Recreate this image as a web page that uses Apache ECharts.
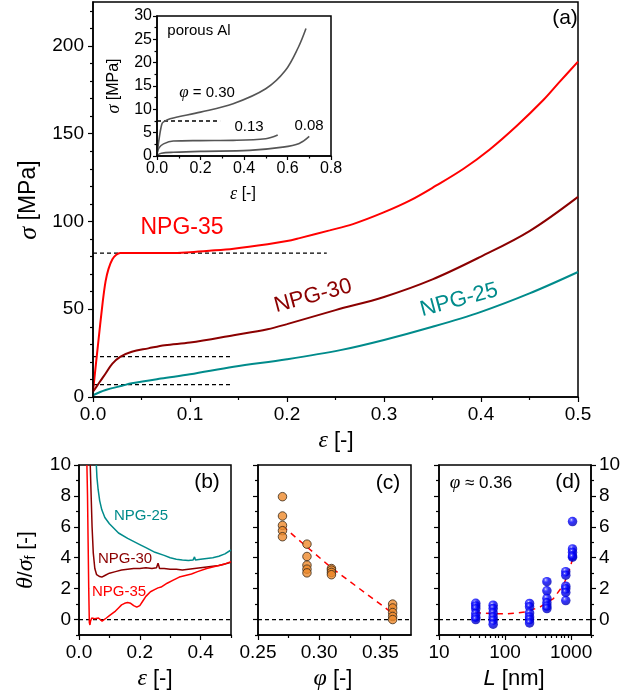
<!DOCTYPE html>
<html>
<head>
<meta charset="utf-8">
<script src="https://cdn.jsdelivr.net/npm/echarts@6/dist/echarts.min.js"></script>
<style>
html,body{margin:0;padding:0;background:#fff;}
#chart{width:639px;height:698px;}
</style>
</head>
<body>
<div id="chart"></div>
<script>
// ---------- (a) stress-strain curves of NPG samples ----------
const strainA35 = [0,0.005,0.01,0.013,0.016,0.02,0.024,0.028,0.04,0.06,0.08,0.1,0.12,0.145,0.18,0.2,0.213,0.244,0.268,0.299,0.327,0.354,0.382,0.409,0.437,0.464,0.481,0.5];
const stressA35 = [3,29,54,66,73,78.5,81,82,82,82,82,82.5,83.3,84.5,87,88.8,90.5,94.9,98.5,105,112,120.5,130,141,154.5,169,179.5,191];
const strainA30 = [0,0.006,0.013,0.02,0.028,0.04,0.057,0.074,0.1,0.145,0.18,0.2,0.25,0.3,0.35,0.4,0.45,0.5];
const stressA30 = [3,7.8,13.4,19,22.9,25.8,27.7,29.5,31,35.2,38.6,41.5,49.5,57,67,80,94.5,114];
const strainA25 = [0,0.013,0.03,0.04,0.07,0.1,0.145,0.2,0.255,0.3,0.35,0.4,0.45,0.5];
const stressA25 = [1,4,6.4,7.8,10.5,12.9,17.2,21.5,26.7,32.5,40,48.5,59,71.2];
// yield-stress guide lines: level and end strain
const yieldLevels = [82, 23, 7];
const yieldEnds = [0.241, 0.143, 0.143];

// ---------- inset: porous Al ----------
const insetStrain30 = [0,0.01,0.022,0.03,0.06,0.2,0.35,0.5,0.59,0.65,0.685];
const insetStress30 = [0.3,3.8,6.8,7.3,8,9.4,11.2,14.4,18.3,23.3,27.3];
const insetStrain13 = [0,0.01,0.03,0.075,0.2,0.35,0.5,0.555];
const insetStress13 = [0.5,1.8,2.6,3.2,3.3,3.35,3.7,4.5];
const insetStrain08 = [0,0.02,0.075,0.2,0.425,0.578,0.654,0.7];
const insetStress08 = [0.2,0.6,0.8,1.0,1.2,1.9,2.7,4.2];
const insetYield = 7.5, insetYieldEnd = 0.29;

// ---------- (b) normalised hardening rate ----------
const epsB25 = [0.057,0.059,0.063,0.068,0.075,0.085,0.1,0.13,0.16,0.2,0.22,0.25,0.28,0.3,0.32,0.34,0.36,0.375,0.38,0.383,0.4,0.42,0.44,0.46,0.48,0.5];
const thB25 = [10,9.2,8.4,7.7,7.1,6.6,6.2,5.6,5.25,4.85,4.65,4.35,4.15,4.0,3.9,3.85,3.82,3.85,4.05,3.85,3.9,3.95,4.0,4.1,4.25,4.5];
const epsB30 = [0.037,0.04,0.043,0.047,0.052,0.058,0.068,0.075,0.085,0.1,0.12,0.14,0.16,0.18,0.2,0.22,0.24,0.255,0.26,0.265,0.28,0.3,0.32,0.34,0.36,0.38,0.4,0.42,0.44,0.46,0.48,0.5];
const thB30 = [10,8,6,4.3,3.3,2.9,2.78,2.75,2.85,3.0,3.1,3.2,3.25,3.3,3.3,3.35,3.3,3.35,3.65,3.3,3.3,3.25,3.25,3.2,3.25,3.3,3.35,3.4,3.45,3.5,3.6,3.7];
const epsB35 = [0.026,0.028,0.03,0.032,0.034,0.036,0.038,0.042,0.047,0.052,0.058,0.064,0.07,0.076,0.082,0.09,0.1,0.11,0.12,0.13,0.14,0.15,0.16,0.17,0.18,0.19,0.2,0.21,0.22,0.235,0.25,0.26,0.27,0.29,0.31,0.33,0.35,0.37,0.39,0.42,0.44,0.46,0.48,0.5];
const thB35 = [10,8,5,2,-0.2,-0.35,-0.1,0.1,0.18,0.05,0.0,0.1,0.05,-0.1,0.0,0.1,0.25,0.4,0.55,0.75,0.95,1.05,1.1,1.05,0.9,0.8,0.9,1.2,1.5,1.8,1.95,2.05,2.1,2.35,2.55,2.75,2.85,2.95,3.1,3.3,3.4,3.5,3.6,3.75];

// ---------- (c) hardening vs. solid fraction ----------
const phiC = [0.27, 0.29, 0.31, 0.36];
const thetaC = [
  [7.95, 6.7, 6.09, 5.75, 5.36],
  [4.88, 4.08, 3.52, 3.26, 3.02],
  [3.3, 3.2, 3.05, 2.9],
  [1.0, 0.75, 0.45, 0.2, 0.0]
];
const fitPhiC = [0.27, 0.29, 0.31, 0.36];
const fitThetaC = [6.05, 4.7, 3.35, 0.4];

// ---------- (d) hardening vs. ligament size ----------
const sizeD = [36, 66, 235, 430, 830, 1050];
const thetaD = [
  [1.05, 0.88, 0.7, 0.38, 0.15, 0.0],
  [0.93, 0.71, 0.43, 0.17, -0.04, -0.3],
  [1.04, 0.82, 0.43, 0.17, 0.0, -0.22],
  [2.45, 1.86, 1.36, 1.08, 0.87, 0.71],
  [3.1, 2.87, 2.16, 1.99, 1.75, 1.23],
  [6.34, 4.57, 4.35, 4.11, 4.03]
];
const fitSizeD = [35, 62, 105, 210, 340, 540, 764, 910, 1060];
const fitThetaD = [0.45, 0.39, 0.36, 0.5, 0.82, 1.36, 2.23, 3.0, 3.96];

// ---------- tick positions ----------
const aXTicks = [0, 0.1, 0.2, 0.3, 0.4, 0.5];
const aXMinor = [0.05, 0.15, 0.25, 0.35, 0.45];
const aYTicks = [0, 50, 100, 150, 200];
const aYMinor = [10,20,30,40,60,70,80,90,110,120,130,140,160,170,180,190,210,220];
const inXTicks = [0, 0.2, 0.4, 0.6, 0.8];
const inXMinor = [0.1, 0.3, 0.5, 0.7];
const inYTicks = [0, 5, 10, 15, 20, 25, 30];
const inYMinor = [2.5, 7.5, 12.5, 17.5, 22.5, 27.5];
const bXTicks = [0, 0.2, 0.4];
const bXMinor = [0.1, 0.3, 0.5];
const thetaTicks = [0, 2, 4, 6, 8, 10];
const thetaMinor = [-1, 1, 3, 5, 7, 9];
const cXTicks = [0.25, 0.30, 0.35];
const cXMinor = [0.275, 0.325];
const dXTicks = [10, 100, 1000];
const dXMinor = [20,30,40,50,60,70,80,90,200,300,400,500,600,700,800,900,2000];

const RED = '#ff0000', DARKRED = '#8b0000', TEAL = '#008b8b', GREY = '#555555';
const SANS = '"Liberation Sans", Arial, sans-serif';
const SERIF = '"Liberation Serif", "Times New Roman", serif';

const pairs = (xs, ys) => xs.map((x, i) => [x, ys[i]]);

const grid = [
  {left: 93, top: 2, width: 485, height: 395},   // (a)
  {left: 157, top: 16, width: 174, height: 140}, // inset
  {left: 79, top: 465, width: 152, height: 170}, // (b)
  {left: 258, top: 465, width: 153, height: 170},// (c)
  {left: 439, top: 465, width: 152, height: 170} // (d)
].map(g => Object.assign({show: true, borderColor: '#000', borderWidth: 1.5, backgroundColor: 'transparent', containLabel: false}, g));

const xAxis = [], yAxis = [];
function addAxis(list, o) {
  const ax = {
    gridIndex: o.grid,
    type: o.type || 'value',
    min: o.min, max: o.max,
    position: o.pos,
    axisLine: {show: o.line !== false, onZero: false, lineStyle: {color: '#000', width: 1.5}},
    axisTick: {show: true, inside: false, length: o.len || 5, customValues: o.ticks, lineStyle: {color: '#000', width: 1.2}},
    axisLabel: {show: !!o.labels, color: '#000', fontFamily: SANS, fontSize: o.fs || 19, margin: o.margin || 8},
    splitLine: {show: false},
    minorTick: {show: false},
    minorSplitLine: {show: false},
    z: 5
  };
  if (o.labels) { ax.axisLabel.customValues = o.labels; ax.axisLabel.formatter = o.fmt; }
  if (o.type === 'log') ax.logBase = 10;
  list.push(ax);
  return list.length - 1;
}
const f1 = v => Number(v).toFixed(1);
const f2 = v => Number(v).toFixed(2);
const f0 = v => String(Math.round(v));

// (a)
const xa = addAxis(xAxis, {grid: 0, min: 0, max: 0.5, pos: 'bottom', ticks: aXTicks, labels: aXTicks, fmt: f1});
addAxis(xAxis, {grid: 0, min: 0, max: 0.5, pos: 'bottom', ticks: aXMinor, len: 3, line: false});
const ya = addAxis(yAxis, {grid: 0, min: 0, max: 225, pos: 'left', ticks: aYTicks, labels: aYTicks, fmt: f0, margin: 9});
addAxis(yAxis, {grid: 0, min: 0, max: 225, pos: 'left', ticks: aYMinor, len: 3, line: false});
// inset
const xi = addAxis(xAxis, {grid: 1, min: 0, max: 0.8, pos: 'bottom', ticks: inXTicks, labels: inXTicks, fmt: f1, fs: 16, margin: 5, len: 4});
addAxis(xAxis, {grid: 1, min: 0, max: 0.8, pos: 'bottom', ticks: inXMinor, len: 2.5, line: false});
const yi = addAxis(yAxis, {grid: 1, min: 0, max: 30, pos: 'left', ticks: inYTicks, labels: inYTicks, fmt: f0, fs: 16, margin: 5, len: 4});
addAxis(yAxis, {grid: 1, min: 0, max: 30, pos: 'left', ticks: inYMinor, len: 2.5, line: false});
// (b)
const xb = addAxis(xAxis, {grid: 2, min: 0, max: 0.5, pos: 'bottom', ticks: bXTicks, labels: bXTicks, fmt: f1});
addAxis(xAxis, {grid: 2, min: 0, max: 0.5, pos: 'bottom', ticks: bXMinor, len: 3, line: false});
const yb = addAxis(yAxis, {grid: 2, min: -1, max: 10, pos: 'left', ticks: thetaTicks, labels: thetaTicks, fmt: f0});
addAxis(yAxis, {grid: 2, min: -1, max: 10, pos: 'left', ticks: thetaMinor, len: 3, line: false});
// (c)
const xc = addAxis(xAxis, {grid: 3, min: 0.25, max: 0.375, pos: 'bottom', ticks: cXTicks, labels: cXTicks, fmt: f2});
addAxis(xAxis, {grid: 3, min: 0.25, max: 0.375, pos: 'bottom', ticks: cXMinor, len: 3, line: false});
const yc = addAxis(yAxis, {grid: 3, min: -1, max: 10, pos: 'left', ticks: thetaTicks});
addAxis(yAxis, {grid: 3, min: -1, max: 10, pos: 'left', ticks: thetaMinor, len: 3, line: false});
// (d)
const xd = addAxis(xAxis, {grid: 4, type: 'log', min: 10, max: 2000, pos: 'bottom', ticks: dXTicks, labels: dXTicks, fmt: f0});
addAxis(xAxis, {grid: 4, type: 'log', min: 10, max: 2000, pos: 'bottom', ticks: dXMinor, len: 3, line: false});
const yd = addAxis(yAxis, {grid: 4, min: -1, max: 10, pos: 'right', ticks: thetaTicks, labels: thetaTicks, fmt: f0});
addAxis(yAxis, {grid: 4, min: -1, max: 10, pos: 'right', ticks: thetaMinor, len: 3, line: false});
addAxis(yAxis, {grid: 4, min: -1, max: 10, pos: 'left', ticks: thetaTicks});
addAxis(yAxis, {grid: 4, min: -1, max: 10, pos: 'left', ticks: thetaMinor, len: 3, line: false});

const series = [];
function line(xi_, yi_, data, color, width, extra) {
  series.push(Object.assign({
    type: 'line', xAxisIndex: xi_, yAxisIndex: yi_, data: data,
    symbol: 'none', showSymbol: false, animation: false, silent: true,
    lineStyle: {color: color, width: width}
  }, extra || {}));
}
function dashed(xi_, yi_, data, color, width, dash) {
  line(xi_, yi_, data, color, width, {lineStyle: {color: color, width: width, type: dash || [4, 3]}, z: 1});
}

// (a) curves and yield guides
yieldLevels.forEach((lv, i) => dashed(xa, ya, [[0, lv], [yieldEnds[i], lv]], '#000', 1.3));
line(xa, ya, pairs(strainA25, stressA25), TEAL, 2, {smooth: 0.35});
line(xa, ya, pairs(strainA30, stressA30), DARKRED, 2, {smooth: 0.35});
line(xa, ya, pairs(strainA35, stressA35), RED, 2, {smooth: 0.35});
// inset curves
dashed(xi, yi, [[0, insetYield], [insetYieldEnd, insetYield]], '#000', 1.3);
line(xi, yi, pairs(insetStrain30, insetStress30), GREY, 1.6, {smooth: 0.35});
line(xi, yi, pairs(insetStrain13, insetStress13), GREY, 1.6, {smooth: 0.35});
line(xi, yi, pairs(insetStrain08, insetStress08), GREY, 1.6, {smooth: 0.35});
// (b)
dashed(xb, yb, [[0, 0], [0.5, 0]], '#000', 1.3);
line(xb, yb, pairs(epsB25, thB25), TEAL, 1.5);
line(xb, yb, pairs(epsB30, thB30), DARKRED, 1.5);
line(xb, yb, pairs(epsB35, thB35), RED, 1.5);
// (c)
dashed(xc, yc, [[0.25, 0], [0.375, 0]], '#000', 1.3);
dashed(xc, yc, pairs(fitPhiC, fitThetaC), RED, 1.5, [6, 5]);
series.push({
  type: 'scatter', xAxisIndex: xc, yAxisIndex: yc, animation: false, silent: true,
  symbol: 'circle', symbolSize: 8.5,
  itemStyle: {color: '#ee8a2c', borderColor: '#3a2a1a', borderWidth: 1},
  data: phiC.flatMap((p, i) => thetaC[i].map(t => [p, t])), z: 3
});
// (d)
dashed(xd, yd, [[10, 0], [2000, 0]], '#000', 1.3);
dashed(xd, yd, pairs(fitSizeD, fitThetaD), RED, 1.5, [6, 5]);
series.push({
  type: 'scatter', xAxisIndex: xd, yAxisIndex: yd, animation: false, silent: true,
  symbol: 'circle', symbolSize: 9.5,
  itemStyle: {
    color: {type: 'radial', x: 0.38, y: 0.32, r: 0.7, colorStops: [
      {offset: 0, color: '#ffffff'}, {offset: 0.14, color: '#5a5aff'}, {offset: 0.4, color: '#0000ff'}, {offset: 1, color: '#0000b0'}
    ]}
  },
  data: sizeD.flatMap((L, i) => thetaD[i].map(t => [L, t])), z: 3
});

// text annotations
function txt(x, y, text, size, color, opts) {
  opts = opts || {};
  return {
    type: 'text', x: x, y: y, rotation: opts.rot || 0, z: 10, silent: true,
    style: {
      text: text, fill: color || '#000',
      font: (opts.italic ? 'italic ' : '') + size + 'px ' + (opts.family || SANS),
      align: opts.align || 'center', verticalAlign: 'middle',
      textAlign: opts.align || 'center', textVerticalAlign: 'middle',
      rich: opts.rich
    }
  };
}
const greek = size => ({fontFamily: SERIF, fontStyle: 'italic', fontSize: size, fill: '#000', color: '#000'});
const plain = size => ({fontFamily: SANS, fontSize: size, fill: '#000', color: '#000'});
const deg = Math.PI / 180;

const graphic = [
  // (a)
  txt(29, 200, '{g|σ}{p| [MPa]}', 23, '#000', {rot: 90 * deg, rich: {g: greek(26), p: plain(23)}}),
  txt(336, 441, '{g|ε}{p| [-]}', 22, '#000', {rich: {g: greek(24), p: plain(22)}}),
  txt(565, 18, '(a)', 21),
  txt(182, 228, 'NPG-35', 23, RED),
  txt(313, 296, 'NPG-30', 22, DARKRED, {rot: 15 * deg}),
  txt(459, 300, 'NPG-25', 22, TEAL, {rot: 15 * deg}),
  // inset
  txt(199, 31, 'porous Al', 15),
  txt(207, 93, '{g|φ}{p| = 0.30}', 15, '#000', {rich: {g: greek(17), p: plain(15)}}),
  txt(249, 127, '0.13', 15),
  txt(309, 126, '0.08', 15),
  txt(114, 86, '{g|σ}{p| [MPa]}', 16, '#000', {rot: 90 * deg, rich: {g: greek(18), p: plain(16)}}),
  txt(243, 194, '{g|ε}{p| [-]}', 16, '#000', {rich: {g: greek(18), p: plain(16)}}),
  // (b)
  txt(207, 482, '(b)', 21),
  txt(141, 516, 'NPG-25', 15, TEAL),
  txt(125, 559, 'NPG-30', 15, DARKRED),
  txt(119, 592, 'NPG-35', 15, RED),
  txt(26, 560, '{g|θ}{p|/}{g|σ}{s|f}{p| [-]}', 21, '#000', {rot: 90 * deg, rich: {g: greek(24), p: plain(21), s: {fontFamily: SANS, fontSize: 14, padding: [10, 0, 0, 0], fill: '#000'}}}),
  txt(155, 679, '{g|ε}{p| [-]}', 22, '#000', {rich: {g: greek(24), p: plain(22)}}),
  // (c)
  txt(388, 483, '(c)', 21),
  txt(333, 679, '{g|φ}{p| [-]}', 22, '#000', {rich: {g: greek(24), p: plain(22)}}),
  // (d)
  txt(568, 482, '(d)', 21),
  txt(481, 483, '{g|φ}{p| ≈ 0.36}', 17, '#000', {rich: {g: greek(19), p: plain(17)}}),
  txt(514, 679, '{l|L}{p| [nm]}', 22, '#000', {rich: {l: {fontFamily: SANS, fontStyle: 'italic', fontSize: 22, fill: '#000'}, p: plain(22)}})
];

const chart = echarts.init(document.getElementById('chart'), null, {renderer: 'canvas', width: 639, height: 698});
chart.setOption({
  animation: false,
  backgroundColor: '#ffffff',
  textStyle: {fontFamily: SANS},
  grid: grid,
  xAxis: xAxis,
  yAxis: yAxis,
  series: series,
  graphic: graphic
});
</script>
</body>
</html>
